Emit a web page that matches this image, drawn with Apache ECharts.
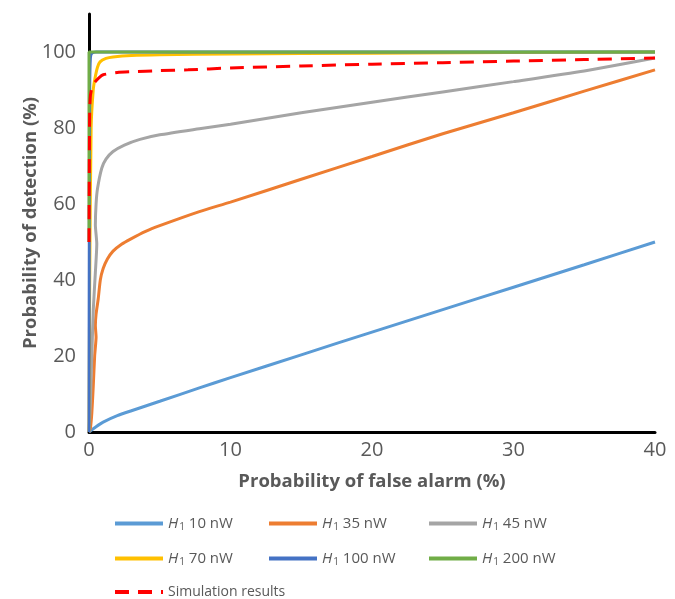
<!DOCTYPE html>
<html><head><meta charset="utf-8">
<script src="https://cdn.jsdelivr.net/npm/echarts@6/dist/echarts.min.js"></script>
<style>html,body{margin:0;padding:0;background:#fff}#c{width:675px;height:599px}</style>
</head><body><div id="c"></div>
<script>
const seriesNames = ['H1 10 nW','H1 35 nW','H1 45 nW','H1 70 nW','H1 100 nW','H1 200 nW','Simulation results'];
const blue10 = [[0,0],[0.5,1.4],[1,2.6],[2,4.3],[3,5.6],[5,8.1],[7.8,11.6],[10,14.3],[15,20.3],[20,26.3],[25,32.2],[30,38.1],[35,44],[40,50]];
const orange35 = [[0,0],[0.1,1],[0.2,5],[0.3,12],[0.4,20],[0.5,25],[0.45,28],[0.5,31],[0.65,35],[0.8,40],[1,43],[1.3,45.5],[1.7,47.6],[2.3,49.4],[2.9,50.7],[4,52.8],[5,54.3],[7.8,58],[10,60.5],[15,66.5],[20,72.5],[25,78.5],[30,84],[35,89.7],[40,95.3]];
const gray45 = [[0,0],[0.1,8],[0.2,20],[0.3,32],[0.45,42],[0.55,49.5],[0.45,54.5],[0.5,60],[0.6,64],[0.9,69.4],[1.2,71.8],[1.7,73.8],[2.5,75.5],[3.6,77],[5,78.2],[7.8,79.8],[10,81],[15,84],[20,86.8],[25,89.5],[30,92.2],[35,95],[40,98.4]];
const yellow70 = [[0,0],[0.05,40],[0.15,80],[0.3,90],[0.42,93],[0.6,96],[0.78,97.4],[1.2,98.3],[1.7,98.7],[3,99.1],[5,99.3],[10,99.5],[20,99.7],[40,100]];
const blue100 = [[0,0],[0.02,50],[0.05,90],[0.1,98.5],[0.2,99.7],[0.5,100],[40,100]];
const green200 = [[0,50],[0,100],[40,100]];
const simulation = [[0,50],[0.02,70],[0.05,85],[0.1,88.5],[0.2,90.5],[0.4,92],[0.7,93.2],[1,94],[2,94.6],[3,94.8],[5,95.1],[7,95.3],[10,95.8],[15,96.3],[20,96.8],[25,97.2],[30,97.6],[35,98],[40,98.4]];
const seriesData = [blue10, orange35, gray45, yellow70, blue100, green200, simulation];
const colors = ['#5B9BD5','#ED7D31','#A5A5A5','#FFC000','#4472C4','#70AD47','#FF0000'];

const txt = '#595959';
const font = '"Open Sans", "Noto Sans", sans-serif';
const chart = echarts.init(document.getElementById('c'));

const legendPos = [[108,511],[262,511],[422,511],[108,546],[262,546],[422,546],[108,580]];
const legends = seriesNames.map((n,i)=>({
  data:[n], left: legendPos[i][0], top: legendPos[i][1],
  itemWidth: 48, itemHeight: 16, itemGap: 8,
  itemStyle: {opacity: 0},
  lineStyle: {width: 4},
  formatter: name => name.startsWith('H1') ? '{i|H}{s|1}{t| ' + name.slice(3) + '}' : '{t|' + name + '}',
  textStyle: {
    color: txt, fontFamily: font, fontSize: i===6 ? 14 : 15,
    rich: {
      i: {fontStyle:'italic', fontSize:15, color: txt, fontFamily: font},
      s: {fontSize:10, color: txt, fontFamily: font, verticalAlign:'bottom', padding:[7,0,0,1]},
      t: {fontSize: i===6 ? 14 : 15, color: txt, fontFamily: font}
    }
  }
}));

chart.setOption({
  animation:false,
  backgroundColor:'#fff',
  grid:{left:89, right:20, top:14, bottom:167, containLabel:false},
  legend: legends,
  xAxis:{
    type:'value', min:0, max:40, interval:10,
    name:'Probability of false alarm (%)', nameLocation:'middle', nameGap:40,
    nameTextStyle:{color:txt, fontWeight:'bold', fontSize:18.5, fontFamily:font},
    axisLine:{show:true, lineStyle:{color:'#000', width:3}},
    axisTick:{show:false}, splitLine:{show:false},
    axisLabel:{color:txt, fontSize:20, fontFamily:font, margin:8}
  },
  yAxis:{
    type:'value', min:0, max:110, interval:20,
    name:'Probability of detection (%)', nameLocation:'middle', nameGap:49, nameMoveOverlap:false,
    nameTextStyle:{color:txt, fontWeight:'bold', fontSize:18.5, fontFamily:font},
    axisLine:{show:true, lineStyle:{color:'#000', width:3}},
    axisTick:{show:false}, splitLine:{show:false},
    axisLabel:{color:txt, fontSize:20, fontFamily:font, margin:13, formatter: v => v > 100 ? '' : v}
  },
  series: seriesNames.map((n,i)=>({
    name:n, type:'line', data:seriesData[i], symbol:'none', smooth:0.2,
    lineStyle:{color:colors[i], width:3, type: i===6 ? [14,9] : 'solid'},
    itemStyle:{color:colors[i]},
    z: 2+i
  }))
});
</script></body></html>
